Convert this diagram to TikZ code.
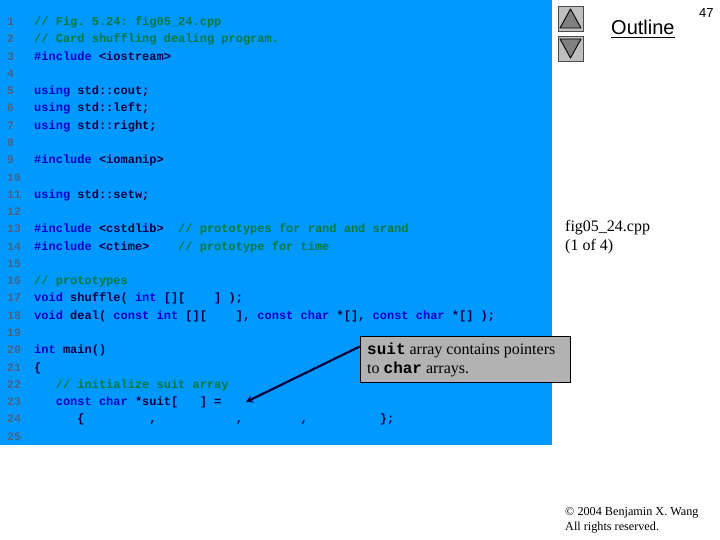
\documentclass[tikz,border=0pt]{standalone}
\usepackage{fontspec}
\setmainfont{Liberation Serif}
\setsansfont{Liberation Sans}
\setmonofont{Liberation Mono}
\usetikzlibrary{arrows.meta}
\definecolor{panel}{HTML}{0099FF}
\definecolor{kwc}{HTML}{0000CC}
\definecolor{cmc}{HTML}{007A3D}
\definecolor{txc}{HTML}{000040}
\definecolor{numc}{HTML}{446488}
\definecolor{boxc}{HTML}{B2B2B2}
\newcommand{\kw}[1]{\textcolor{kwc}{#1}}
\newcommand{\cm}[1]{\textcolor{cmc}{#1}}
\tikzset{
  x=1pt,y=-1pt,
  code/.style={anchor=base west,inner sep=0pt,text=txc,font=\frenchspacing\fontsize{12}{14}\ttfamily\bfseries},
  num/.style={anchor=base west,inner sep=0pt,text=numc,font=\fontsize{11.5}{14}\ttfamily\bfseries},
  serifnote/.style={anchor=base west,inner sep=0pt,text=black,font=\fontsize{16}{18}\rmfamily},
  smallnote/.style={anchor=base west,inner sep=0pt,text=black,font=\fontsize{12.2}{15}\rmfamily},
  btn/.style={draw=black!70,fill=black!25,line width=0.8pt,minimum width=25pt,minimum height=25pt,inner sep=0pt},
  tri/.style={draw=black,fill=black!50,line width=0.9pt,line join=round},
}
\begin{document}
\begin{tikzpicture}
\useasboundingbox (0,0) rectangle (720,540);
\fill[white] (0,0) rectangle (720,540);
\fill[panel] (0,0) rectangle (552,445);
% line numbers
\foreach \n/\y in {1/25.5,2/42.5,3/60.5,4/77.5,5/94.5,6/111.5,7/129.5,8/146.5,9/163.5,10/181.5,11/198.5,12/215.5,13/232.5,14/250.5,15/267.5,16/284.5,17/301.5,18/319.5,19/336.5,20/353.5,21/371.5,22/388.5,23/405.5,24/422.5,25/440.5}
  \node[num] (n\n) at (7,\y) {\n};
% code
\node[code] (l1) at (34,25.5) {\cm{// Fig. 5.24: fig05\_24.cpp}};
\node[code] (l2) at (34,42.5) {\cm{// Card shuffling dealing program.}};
\node[code] (l3) at (34,60.5) {\kw{\#include} <iostream>};
\node[code] (l5) at (34,94.5) {\kw{using} std::cout;};
\node[code] (l6) at (34,111.5) {\kw{using} std::left;};
\node[code] (l7) at (34,129.5) {\kw{using} std::right;};
\node[code] (l9) at (34,163.5) {\kw{\#include} <iomanip>};
\node[code] (l11) at (34,198.5) {\kw{using} std::setw;};
\node[code] (l13) at (34,232.5) {\kw{\#include} <cstdlib>~~\cm{// prototypes for rand and srand}};
\node[code] (l14) at (34,250.5) {\kw{\#include} <ctime>~~~~\cm{// prototype for time}};
\node[code] (l16) at (34,284.5) {\cm{// prototypes}};
\node[code] (l17) at (34,301.5) {\kw{void} shuffle( \kw{int} [][~~~~] );};
\node[code] (l18) at (34,319.5) {\kw{void} deal( \kw{const int} [][~~~~], \kw{const char} *[], \kw{const char} *[] );};
\node[code] (l20) at (34,353.5) {\kw{int} main()};
\node[code] (l21) at (34,371.5) {\{};
\node[code] (l22) at (34,388.5) {~~~\cm{// initialize suit array}};
\node[code] (l23) at (34,405.5) {~~~\kw{const char} *suit[~~~] =};
\node[code] (l24) at (34,422.5) {~~~~~~\{~~~~~~~~~,~~~~~~~~~~~,~~~~~~~~,~~~~~~~~~~\};};
% callout
\node[draw=black,fill=boxc,line width=1pt,minimum width=210.5pt,minimum height=46pt,inner sep=0pt] (callout) at (465.5,359.5) {};
\node[serifnote] (c1) at (367,354) {{\ttfamily\bfseries suit} array contains pointers};
\node[serifnote] (c2) at (367,373) {to {\ttfamily\bfseries char} arrays.};
\coordinate (tip) at (246,402);
\draw[txc,line width=2.2pt,-{Stealth[length=7pt,width=7.5pt]}] (callout.173) -- (tip);
% buttons
\node[btn] (up) at (570.5,18.5) {};
\node[btn] (down) at (570.5,48.5) {};
\draw[tri] (570.5,9) -- (581,28) -- (560,28) -- cycle;
\draw[tri] (570.5,58) -- (581,39) -- (560,39) -- cycle;
% outline
\node[anchor=base west,inner sep=0pt,font=\fontsize{20}{22}\sffamily] (outline) at (611,35) {Outline};
\draw[black,line width=1.2pt] (outline.south west)++(0,2.5) coordinate (ua) (outline.south east)++(0,2.5) coordinate (ub) (ua) -- (ub);
\node[anchor=base west,inner sep=0pt,font=\fontsize{13}{15}\sffamily] (page) at (699,18) {47};
% side notes
\node[serifnote] (f1) at (565,232) {fig05\_24.cpp};
\node[serifnote] (f2) at (565,251) {(1 of 4)};
\node[smallnote] (r1) at (565,515) {© 2004 Benjamin X. Wang};
\node[smallnote] (r2) at (565,530) {All rights reserved.};
\end{tikzpicture}
\end{document}
